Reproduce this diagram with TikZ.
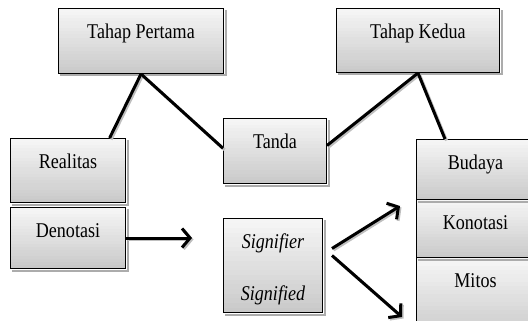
\documentclass[tikz,border=0pt]{standalone}
\usepackage{fontspec}
\setmainfont[FakeStretch=0.86]{Liberation Serif}
\usetikzlibrary{calc}
\usetikzlibrary{arrows.meta}

\tikzset{
  stage/.style={draw, line width=1pt, anchor=north west, inner sep=0pt,
    font=\fontsize{21}{24}\selectfont, text height=30pt,
    path picture={
      \foreach \k [evaluate=\k as \tone using int(8+\k*34/19),
                   evaluate=\k as \ta using \k/20,
                   evaluate=\k as \tb using (\k+1.3)/20] in {0,...,19}
        \fill[gray!\tone] ($(path picture bounding box.north west)!\ta!(path picture bounding box.south west)$)
          rectangle ($(path picture bounding box.north east)!\tb!(path picture bounding box.south east)$);
    }},
  boxshade/.style={fill=gray!65},
  link/.style={line width=3pt},
  linkshade/.style={line width=3pt, draw=gray!50},
  tip/.style={-{Straight Barb[length=8pt,width=19pt]}}
}

\begin{document}
\begin{tikzpicture}[x=1pt, y=-1pt]
\clip (0,0) rectangle (528,321);

\node[stage, minimum width=165pt, text depth=35pt] (pertama) at (58,8) {Tahap Pertama};
\node[stage, minimum width=163pt, text depth=34pt] (kedua) at (336,8) {Tahap Kedua};
\node[stage, minimum width=115pt, text depth=34pt] (realitas) at (10,138) {Realitas};
\node[stage, minimum width=115pt, text depth=31pt] (denotasi) at (10,207) {Denotasi};
\node[stage, minimum width=103pt, text depth=35pt] (tanda) at (223,118) {Tanda};
\node[stage, minimum width=99pt, text height=82pt, text depth=12pt, align=center] (signifier) at (223,218) {\textit{Signifier}\\[28pt]\textit{Signified}};
\node[stage, minimum width=118pt, text depth=30pt] (budaya) at (416,139) {Budaya};
\node[stage, minimum width=118pt, text depth=28pt] (konotasi) at (416,199) {Konotasi};
\node[stage, minimum width=118pt, text depth=50pt] (mitos) at (416,257) {Mitos};

% shadows
\foreach \n in {pertama,kedua,realitas,denotasi,tanda,signifier,budaya,konotasi,mitos} {
  \fill[boxshade] ($(\n.south west)+(2,0.5)$) rectangle ($(\n.south east)+(2.5,2.5)$);
  \fill[boxshade] ($(\n.north east)+(0.5,2)$) rectangle ($(\n.south east)+(2.5,0.5)$);
}

% connectors
\foreach \a/\b in {pertama.south/realitas.38, pertama.south/tanda.177,
                   kedua.south/tanda.6, kedua.south/budaya.135} {
  \draw[linkshade] ($(\a)+(1.5,1.5)$) -- ($(\b)+(1.5,1.5)$);
  \draw[link] (\a) -- (\b);
}

\coordinate (dnext) at (192,238);
\coordinate (kup) at (400,206);
\coordinate (kdown) at (402,317);
\coordinate (sup) at ($(signifier.east)+(9,-17)$);
\coordinate (sdown) at ($(signifier.east)+(9,-10)$);
\foreach \a/\b in {denotasi.east/dnext, sup/kup, sdown/kdown} {
  \draw[linkshade, tip] ($(\a)+(1.5,1.5)$) -- ($(\b)+(1.5,1.5)$);
  \draw[link, tip] (\a) -- (\b);
}

\end{tikzpicture}
\end{document}
